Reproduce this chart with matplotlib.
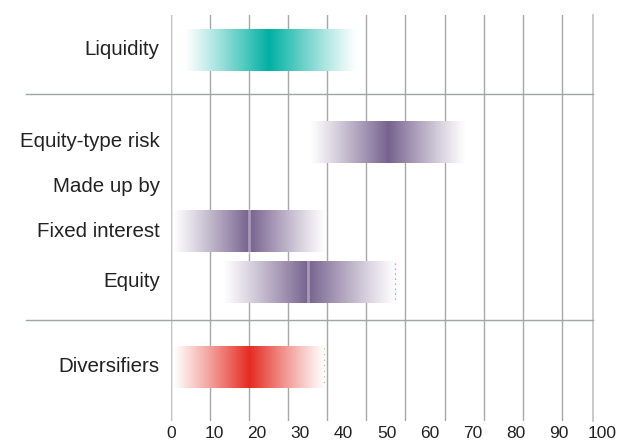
import numpy as np
import matplotlib
matplotlib.use("Agg")
import matplotlib.pyplot as plt
from matplotlib.colors import to_rgb

plt.rcParams['font.family'] = ['Liberation Sans', 'DejaVu Sans']

# rows (top to bottom), values in %
labels = ["Liquidity", "Equity-type risk", "Made up by", "Fixed interest", "Equity", "Diversifiers"]
row_y = [0.76, 2.76, 3.74, 4.70, 5.80, 7.65]
lows = [3.6, 35.6, None, 0.5, 13.3, 0.5]
peaks = [25.0, 55.6, None, 20.0, 35.0, 20.0]
highs = [47.4, 75.4, None, 39.5, 57.4, 39.2]
colors = ["#00b0a2", "#77628f", None, "#77628f", "#77628f", "#e52b22"]
peak_line = [False, False, False, True, True, False]
separators = [1.72, 6.63]
ticks = [0, 10, 20, 30, 40, 50, 60, 70, 80, 90, 100]

fig = plt.figure(figsize=(6.18, 4.42), dpi=100)
ax = fig.add_axes([171 / 618, 21 / 442, 422 / 618, 406 / 442])

for g in ticks:
    ax.axvline(g, color="#a8a8a8", lw=1.0, zorder=1)
ax.axvline(108, color="#c0c0c0", lw=1.2, zorder=1, clip_on=False)
ax.axvline(0, color="#c4c4c4", lw=1.6, zorder=1)

bar_h = 0.91
for y, lo, pk, hi, c, pl in zip(row_y, lows, peaks, highs, colors, peak_line):
    if lo is None:
        continue
    xs = np.linspace(lo, hi, 400)
    t = np.where(xs <= pk, (xs - lo) / (pk - lo), (hi - xs) / (hi - pk))
    t = np.clip(t, 0, 1) ** 1.1
    rgb = np.array(to_rgb(c))
    img = 1 - t[:, None] * (1 - rgb[None, :])
    img = img[None, :, :]
    ax.imshow(img, extent=[lo, hi, y + bar_h / 2, y - bar_h / 2], aspect="auto",
              interpolation="bilinear", zorder=2)
    if pl:
        ax.plot([pk, pk], [y - bar_h / 2, y + bar_h / 2], color="white", alpha=0.35, lw=2.0, zorder=3)

# faint dotted ends seen on two bars
ax.plot([highs[4], highs[4]], [row_y[4] - 0.4, row_y[4] + 0.4], color="#f07080", lw=0.9, ls=(0, (1, 3)), zorder=3)
ax.plot([highs[5], highs[5]], [row_y[5] - 0.4, row_y[5] + 0.4], color="#b0b0b0", lw=0.8, ls=(0, (1, 4)), zorder=3)

for s in separators:
    ax.plot([-37.2, 108], [s, s], color="#a0a6a6", lw=1.0, clip_on=False, zorder=1)

for lab, y in zip(labels, row_y):
    ax.text(-2.9, y, lab, ha="right", va="center", fontsize=14.8, color="#222222")

# tick labels sit on their own spacing, a bit wider than the grid
tr = ax.get_xaxis_transform()
for v in ticks:
    ax.text(v * 1.103, -0.03, str(v), transform=tr, ha="center", va="center",
            fontsize=12.5, color="#222222", clip_on=False)

ax.set_yticks([])
ax.set_xticks([])
ax.set_xlim(0, 108)
ax.set_ylim(8.83, 0)
for sp in ax.spines.values():
    sp.set_visible(False)

fig.savefig("out.png", dpi=100)
